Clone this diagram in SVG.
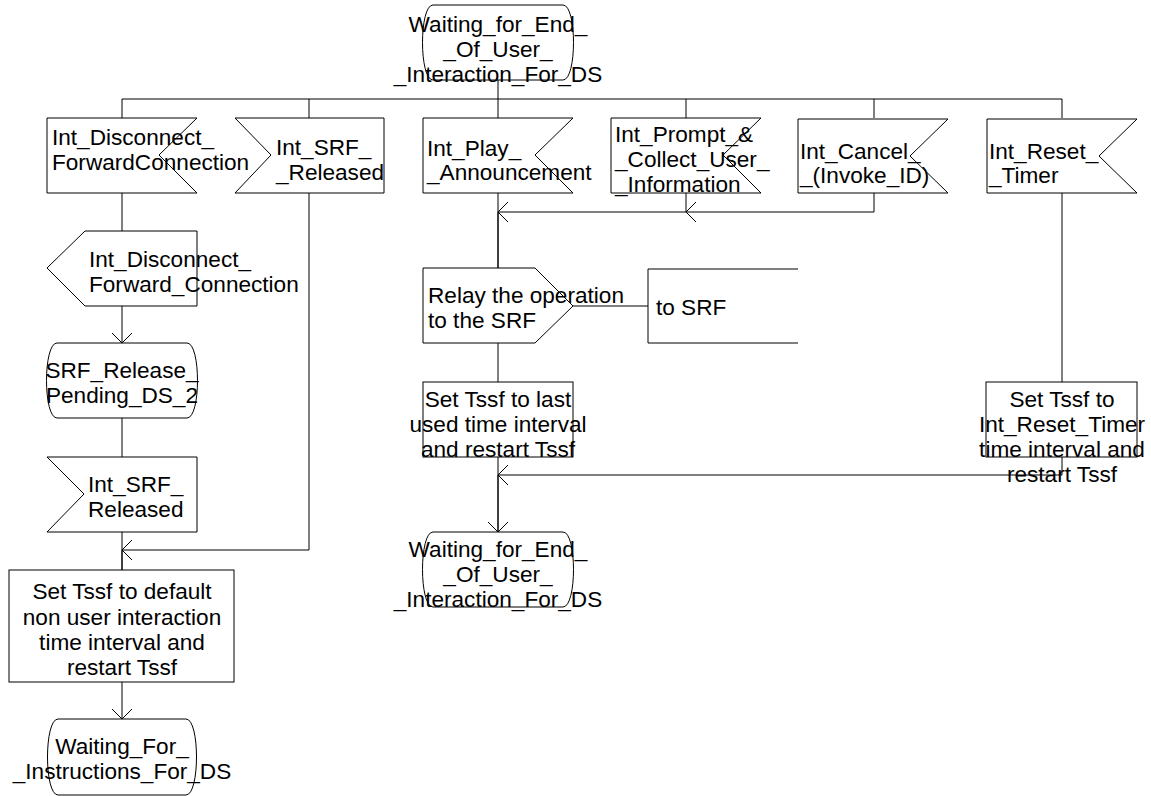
<svg xmlns="http://www.w3.org/2000/svg" width="1151" height="796" viewBox="0 0 1151 796">
<style>
  .s{fill:#fff;stroke:#000;stroke-width:1}
  .c{fill:none;stroke:#000;stroke-width:1}
  .t{font-family:"Liberation Sans",Arial,sans-serif;font-size:22.6px;fill:#000}
  .m{text-anchor:middle}
</style>
<defs>
  <marker id="ah" markerUnits="userSpaceOnUse" markerWidth="14" markerHeight="24" refX="11" refY="11" orient="auto" overflow="visible">
    <path d="M1,1 L11,11 L1,21" fill="none" stroke="#000" stroke-width="1"/>
  </marker>
</defs>
<rect width="1151" height="796" fill="#fff"/>

<g id="connectors">
  <path class="c" d="M498,80 V99" stroke-width="2"/>
  <path class="c" d="M122,99 H1062"/>
  <path class="c" d="M122,99 V118 M309,99 V118 M498,99 V118 M686,99 V118 M874,99 V118 M1062,99 V118"/>
  <path class="c" d="M122,193 V231"/>
  <path class="c" d="M122,306 V343" marker-end="url(#ah)"/>
  <path class="c" d="M122,418 V457"/>
  <path class="c" d="M122,532 V570"/>
  <path class="c" d="M122,550 V570" stroke-width="2"/>
  <path class="c" d="M309,193 V550 H122" marker-end="url(#ah)"/>
  <path class="c" d="M122,682 V719" marker-end="url(#ah)"/>
  <path class="c" d="M498,193 V268"/>
  <path class="c" d="M498,212 V268" stroke-width="2"/>
  <path class="c" d="M686,193 V212 H498" marker-end="url(#ah)"/>
  <path class="c" d="M874,193 V212 H686" marker-end="url(#ah)"/>
  <path class="c" d="M573,306 H648"/>
  <path class="c" d="M498,343 V382"/>
  <path class="c" d="M498,457 V532" marker-end="url(#ah)"/>
  <path class="c" d="M498,475 V532" stroke-width="2"/>
  <path class="c" d="M1062,193 V382"/>
  <path class="c" d="M1062,457 V475 H498" marker-end="url(#ah)"/>
</g>

<g id="state_top">
  <path class="s" d="M433,5 H563 C577,5 577,80 563,80 H433 C419,80 419,5 433,5 Z"/>
  <text class="t m" x="498" y="32">Waiting_for_End_</text>
  <text class="t m" x="498" y="57">_Of_User_</text>
  <text class="t m" x="498" y="82">_Interaction_For_DS</text>
</g>

<g id="in_disconnect">
  <path class="s" d="M47,118 H197 L159,155 L197,193 H47 Z"/>
  <text class="t" x="52" y="145">Int_Disconnect_</text>
  <text class="t" x="52" y="170">ForwardConnection</text>
</g>

<g id="in_srf_released_top">
  <path class="s" d="M235,118 H384 V193 H235 L271,155 Z"/>
  <text class="t" x="276" y="155">Int_SRF_</text>
  <text class="t" x="276" y="180">_Released</text>
</g>

<g id="in_play">
  <path class="s" d="M423,118 H573 L535,155 L573,193 H423 Z"/>
  <text class="t" x="427" y="156">Int_Play_</text>
  <text class="t" x="427" y="180">_Announcement</text>
</g>

<g id="in_prompt">
  <path class="s" d="M611,118 H761 L723,155 L761,193 H611 Z"/>
  <text class="t" x="615" y="142">Int_Prompt_&amp;</text>
  <text class="t" x="615" y="167">_Collect_User_</text>
  <text class="t" x="615" y="192">_Information</text>
</g>

<g id="in_cancel">
  <path class="s" d="M798,119 H948 L910,156 L948,193 H798 Z"/>
  <text class="t" x="800" y="159">Int_Cancel_</text>
  <text class="t" x="800" y="183">_(Invoke_ID)</text>
</g>

<g id="in_reset">
  <path class="s" d="M987,119 H1137 L1099,156 L1137,193 H987 Z"/>
  <text class="t" x="989" y="159">Int_Reset_</text>
  <text class="t" x="989" y="183">_Timer</text>
</g>

<g id="out_disconnect">
  <path class="s" d="M85,231 H197 V306 H85 L47,268 Z"/>
  <text class="t" x="89" y="267">Int_Disconnect_</text>
  <text class="t" x="89" y="292">Forward_Connection</text>
</g>

<g id="state_srf_release_pending">
  <path class="s" d="M57,343 H187 C201,343 201,418 187,418 H57 C43,418 43,343 57,343 Z"/>
  <text class="t m" x="122" y="378">SRF_Release_</text>
  <text class="t m" x="122" y="403">Pending_DS_2</text>
</g>

<g id="in_srf_released_bottom">
  <path class="s" d="M47,457 H197 V532 H47 L84,494 Z"/>
  <text class="t" x="88" y="492">Int_SRF_</text>
  <text class="t" x="88" y="517">Released</text>
</g>

<g id="task_default">
  <rect class="s" x="9" y="570" width="225" height="112"/>
  <text class="t m" x="122" y="599">Set Tssf to default</text>
  <text class="t m" x="122" y="625">non user interaction</text>
  <text class="t m" x="122" y="650">time interval and</text>
  <text class="t m" x="122" y="675">restart Tssf</text>
</g>

<g id="state_waiting_instructions">
  <path class="s" d="M58,719 H186 C200,719 200,795 186,795 H58 C44,795 44,719 58,719 Z"/>
  <text class="t m" x="122" y="754">Waiting_For_</text>
  <text class="t m" x="122" y="779">_Instructions_For_DS</text>
</g>

<g id="out_relay">
  <path class="s" d="M423,268 H535 L573,306 L535,343 H423 Z"/>
  <text class="t" x="428" y="303">Relay the operation</text>
  <text class="t" x="428" y="328">to the SRF</text>
</g>

<g id="comment_to_srf">
  <path class="c" d="M798,269 H648 V343 H798"/>
  <text class="t" x="656" y="315">to SRF</text>
</g>

<g id="task_last">
  <rect class="s" x="423" y="382" width="150" height="75"/>
  <text class="t m" x="498" y="407">Set Tssf to last</text>
  <text class="t m" x="498" y="432">used time interval</text>
  <text class="t m" x="498" y="457">and restart Tssf</text>
</g>

<g id="task_reset">
  <rect class="s" x="986" y="382" width="151" height="75"/>
  <text class="t m" x="1062" y="407">Set Tssf to</text>
  <text class="t m" x="1062" y="432">Int_Reset_Timer</text>
  <text class="t m" x="1062" y="457">time interval and</text>
  <text class="t m" x="1062" y="482">restart Tssf</text>
</g>

<g id="state_bottom">
  <path class="s" d="M433,532 H563 C577,532 577,607 563,607 H433 C419,607 419,532 433,532 Z"/>
  <text class="t m" x="498" y="557">Waiting_for_End_</text>
  <text class="t m" x="498" y="582">_Of_User_</text>
  <text class="t m" x="498" y="607">_Interaction_For_DS</text>
</g>
</svg>
